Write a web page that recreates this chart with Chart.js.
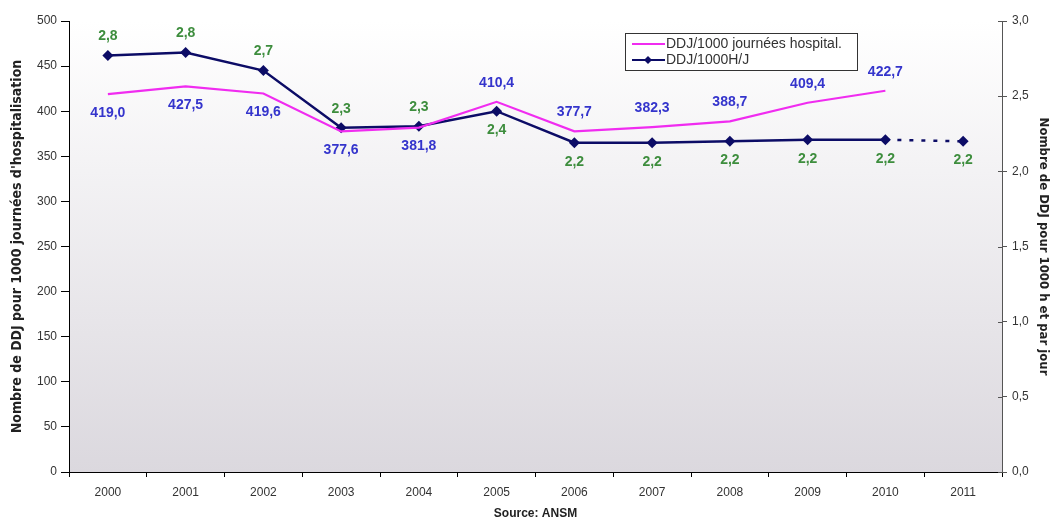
<!DOCTYPE html>
<html>
<head>
<meta charset="utf-8">
<script src="https://cdn.jsdelivr.net/npm/chart.js@4.4.1/dist/chart.umd.min.js"></script>
<style>
  html, body { margin: 0; padding: 0; background: #ffffff; }
  #wrap { width: 1055px; height: 520px; position: relative; }
</style>
</head>
<body>
<div id="wrap"><canvas id="c" width="1055" height="520"></canvas></div>
<script>
// ---- Data ----
const years = ['2000','2001','2002','2003','2004','2005','2006','2007','2008','2009','2010','2011'];
const ddjJournees = [419.0, 427.5, 419.6, 377.6, 381.8, 410.4, 377.7, 382.3, 388.7, 409.4, 422.7, null];
const ddjHJ = [2.77, 2.79, 2.67, 2.29, 2.30, 2.40, 2.19, 2.19, 2.20, 2.21, 2.21, 2.20];
const leftTicksMax = 500;
const rightTicksMax = 3;
const labelJourneesSide = ['below','below','below','below','below','above','above','above','above','above','above','above'];
const labelHJSide = ['above','above','above','above','above','below','below','below','below','below','below','below'];

const fmt = v => v.toFixed(1).replace('.', ',');
const NARROW = "'Liberation Sans Narrow','Arial Narrow','DejaVu Sans Condensed','Liberation Sans',sans-serif";
const SANS = "'Liberation Sans', Arial, sans-serif";

const bgPlugin = {
  id: 'bg',
  beforeDraw(chart) {
    const {ctx, chartArea: a} = chart;
    const g = ctx.createLinearGradient(0, a.top, 0, a.bottom);
    g.addColorStop(0, '#ffffff');
    g.addColorStop(1, '#dbd8de');
    ctx.save();
    ctx.fillStyle = g;
    ctx.fillRect(a.left, a.top, a.right - a.left, a.bottom - a.top);
    ctx.restore();
  }
};

const innerTickPlugin = {
  id: 'innerticks',
  afterDraw(chart) {
    const s = chart.scales.y1;
    const ctx = chart.ctx;
    ctx.save();
    ctx.strokeStyle = '#555555';
    ctx.lineWidth = 1;
    s.ticks.forEach(t => {
      const py = Math.round(s.getPixelForValue(t.value)) + 0.5;
      ctx.beginPath(); ctx.moveTo(s.left - 4, py); ctx.lineTo(s.left, py); ctx.stroke();
    });
    ctx.restore();
  }
};

const labelPlugin = {
  id: 'vlabels',
  afterDatasetsDraw(chart) {
    const ctx = chart.ctx;
    ctx.save();
    ctx.font = "bold 14px " + SANS;
    ctx.textAlign = 'center';
    ctx.textBaseline = 'middle';
    chart.data.datasets.forEach((ds, di) => {
      const meta = chart.getDatasetMeta(di);
      const sides = ds._sides;
      meta.data.forEach((pt, i) => {
        const v = ds.data[i];
        if (v === null || v === undefined) return;
        const off = sides[i] === 'above' ? -19 : 19;
        ctx.fillStyle = ds._labelColor;
        ctx.fillText(fmt(v), pt.x, pt.y + off);
      });
    });
    ctx.restore();
  }
};

const legendPlugin = {
  id: 'boxlegend',
  afterDraw(chart) {
    const ctx = chart.ctx;
    const x = 625, y = 33, w = 232, h = 37;
    ctx.save();
    ctx.fillStyle = '#ffffff';
    ctx.fillRect(x, y, w, h);
    ctx.strokeStyle = '#333333';
    ctx.lineWidth = 1;
    ctx.strokeRect(x + 0.5, y + 0.5, w, h);
    const ds = chart.data.datasets;
    ctx.font = "14px " + SANS;
    ctx.textBaseline = 'middle';
    ctx.fillStyle = '#333333';
    // item 1
    ctx.strokeStyle = ds[0].borderColor;
    ctx.lineWidth = 2;
    ctx.beginPath(); ctx.moveTo(x + 7, y + 11); ctx.lineTo(x + 40, y + 11); ctx.stroke();
    ctx.fillText(ds[0].label, x + 41, y + 11);
    // item 2
    ctx.strokeStyle = ds[1].borderColor;
    ctx.lineWidth = 2;
    ctx.beginPath(); ctx.moveTo(x + 7, y + 27); ctx.lineTo(x + 40, y + 27); ctx.stroke();
    ctx.fillStyle = ds[1].borderColor;
    const cx = x + 23, cy = y + 27, r = 4;
    ctx.beginPath(); ctx.moveTo(cx, cy - r); ctx.lineTo(cx + r, cy); ctx.lineTo(cx, cy + r); ctx.lineTo(cx - r, cy); ctx.closePath(); ctx.fill();
    ctx.fillStyle = '#333333';
    ctx.fillText(ds[1].label, x + 41, y + 27);
    ctx.restore();
  }
};

new Chart(document.getElementById('c'), {
  type: 'line',
  data: {
    labels: years,
    datasets: [
      {
        label: 'DDJ/1000 journées hospital.',
        data: ddjJournees,
        yAxisID: 'y',
        borderColor: '#f02cf0',
        backgroundColor: '#f02cf0',
        borderWidth: 2.2,
        pointRadius: 0,
        tension: 0,
        spanGaps: false,
        _labelColor: '#3434cc',
        _sides: labelJourneesSide
      },
      {
        label: 'DDJ/1000H/J',
        data: ddjHJ,
        yAxisID: 'y1',
        borderColor: '#0c0c66',
        backgroundColor: '#0c0c66',
        borderWidth: 2.5,
        pointStyle: 'rectRot',
        pointRadius: 5.5,
        pointBorderWidth: 0,
        tension: 0,
        segment: {
          borderDash: c => (c.p1DataIndex === 11 ? [4, 8] : undefined)
        },
        _labelColor: '#3d8d3d',
        _sides: labelHJSide
      }
    ]
  },
  options: {
    responsive: false,
    animation: false,
    layout: { padding: { top: 21, left: 0, right: 0, bottom: 0 } },
    plugins: { legend: { display: false }, tooltip: { enabled: false } },
    scales: {
      x: {
        offset: true,
        grid: { drawOnChartArea: false, offset: true, tickLength: 5, color: '#000000' },
        border: { color: '#000000', width: 1 },
        ticks: { color: '#333333', font: { family: SANS, size: 12 }, padding: 8, maxRotation: 0 },
        title: { display: true, text: 'Source: ANSM', color: '#222222', font: { family: SANS, size: 12, weight: 'bold', lineHeight: 1 }, padding: { top: 0, bottom: 0 } },
        afterFit: s => { s.height = 48; }
      },
      y: {
        position: 'left',
        min: 0, max: leftTicksMax,
        grid: { drawOnChartArea: false, tickLength: 8, color: '#000000' },
        border: { color: '#000000', width: 1 },
        ticks: { stepSize: 50, color: '#333333', font: { family: SANS, size: 12 }, padding: 4 },
        title: { display: true, text: "Nombre de DDJ pour 1000 journées d'hospitalisation", color: '#222222', font: { family: NARROW, size: 14, weight: 'bold' }, padding: { top: 9, bottom: 0 } },
        afterFit: s => { s.width = 69; }
      },
      y1: {
        position: 'right',
        min: 0, max: rightTicksMax,
        grid: { drawOnChartArea: false, tickLength: 5, color: '#555555' },
        border: { color: '#555555', width: 1 },
        ticks: { stepSize: 0.5, color: '#333333', font: { family: SANS, size: 12 }, padding: 5, callback: v => fmt(v) },
        title: { display: true, text: 'Nombre de DDJ pour 1000 h et par jour', color: '#222222', font: { family: NARROW, size: 13, weight: 'bold' }, padding: { top: 4, bottom: 0 } },
        afterFit: s => { s.width = 53; }
      }
    }
  },
  plugins: [bgPlugin, labelPlugin, legendPlugin, innerTickPlugin]
});
</script>
</body>
</html>
